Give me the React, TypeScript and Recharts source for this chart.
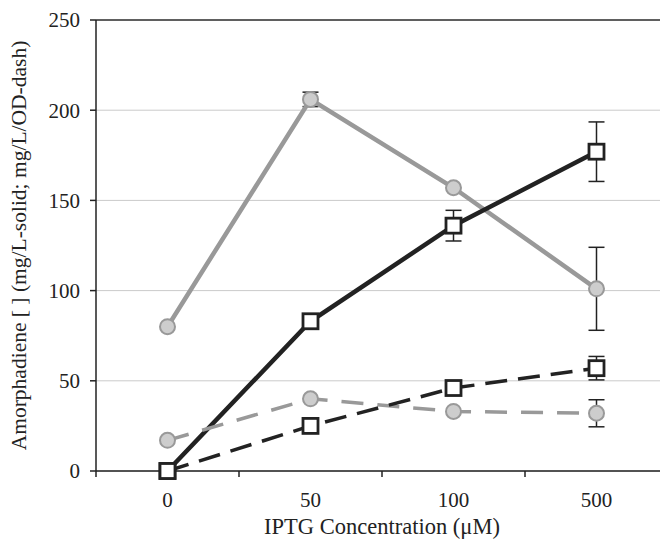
import {
  CartesianGrid,
  ComposedChart,
  ErrorBar,
  Label,
  Line,
  ReferenceLine,
  XAxis,
  YAxis,
} from "recharts";

const categories = ["0", "50", "100", "500"];
const graySolid = [80, 206, 157, 101];
const graySolidErr = [0, 4, 0, 23];
const blackSolid = [0, 83, 136, 177];
const blackSolidErr = [0, 0, 8.5, 16.5];
const grayDash = [17, 40, 33, 32];
const grayDashErr = [0, 0, 0, 7.5];
const blackDash = [0, 25, 46, 57];
const blackDashErr = [0, 0, 0, 6.5];
const yTicks = [0, 50, 100, 150, 200, 250];

const data = categories.map((c, i) => ({
  conc: c,
  gs: graySolid[i],
  gsErr: graySolidErr[i],
  bs: blackSolid[i],
  bsErr: blackSolidErr[i],
  gd: grayDash[i],
  gdErr: grayDashErr[i],
  bd: blackDash[i],
  bdErr: blackDashErr[i],
}));

const FONT = "'Liberation Serif', 'Times New Roman', serif";
const HALF_BAND = 71.5;
const INK = "#222";

function CircleDot(props: any) {
  const { cx, cy, index } = props;
  if (cx == null || cy == null) return null;
  return (
    <circle key={`c-${index}`} cx={cx} cy={cy} r={7.5} fill="#cdcdcd" stroke="#999" strokeWidth={2} />
  );
}

function SquareDot(props: any) {
  const { cx, cy, index } = props;
  if (cx == null || cy == null) return null;
  return (
    <rect key={`s-${index}`} x={cx - 7.5} y={cy - 7.5} width={15} height={15} fill="#fff" stroke={INK} strokeWidth={2.8} />
  );
}

// Excel-style ticks: marks sit between categories, labels centred
function CategoryTick(props: any) {
  const { x, y, payload } = props;
  return (
    <g>
      <line x1={x - HALF_BAND} x2={x - HALF_BAND} y1={y} y2={y + 6} stroke={INK} strokeWidth={1.5} />
      <text x={x} y={y + 36} textAnchor="middle" fill="#222" fontSize={21} fontFamily={FONT}>
        {payload.value}
      </text>
    </g>
  );
}

export default function App() {
  return (
    <ComposedChart
      width={660}
      height={531}
      data={data}
      margin={{ top: 12, right: 0, bottom: 0, left: 0 }}
      style={{ fontFamily: FONT }}
    >
      <CartesianGrid vertical={false} stroke="#cacaca" strokeWidth={1} />
      <ReferenceLine y={250} stroke="#333" strokeWidth={1.5} />
      <XAxis
        dataKey="conc"
        height={68}
        padding={{ left: HALF_BAND, right: HALF_BAND }}
        tickLine={false}
        tickSize={0}
        tickMargin={0}
        axisLine={{ stroke: INK, strokeWidth: 1.5 }}
        tick={<CategoryTick />}
        interval={0}
      >
        <Label
          value="IPTG Concentration (μM)"
          position="insideBottom"
          offset={5}
          style={{ fill: "#222", fontSize: 22.5, fontFamily: FONT }}
        />
      </XAxis>
      <YAxis
        width={88}
        domain={[0, 250]}
        ticks={yTicks}
        interval={0}
        tickSize={6}
        tickMargin={10}
        tick={{ fill: "#222", fontSize: 21, fontFamily: FONT }}
        axisLine={{ stroke: INK, strokeWidth: 1.5 }}
        tickLine={{ stroke: INK, strokeWidth: 1.5 }}
      >
        <Label
          value="Amorphadiene [ ] (mg/L-solid; mg/L/OD-dash)"
          angle={-90}
          position="insideLeft"
          offset={10}
          style={{ fill: "#222", fontSize: 21.5, fontFamily: FONT, textAnchor: "middle" }}
        />
      </YAxis>
      <Line
        dataKey="gs"
        stroke="#999"
        strokeWidth={4.5}
        dot={CircleDot}
        activeDot={false}
        isAnimationActive={false}
      >
        <ErrorBar dataKey="gsErr" width={8} stroke={INK} strokeWidth={1.5} direction="y" />
      </Line>
      <Line
        dataKey="bs"
        stroke={INK}
        strokeWidth={4.5}
        dot={SquareDot}
        activeDot={false}
        isAnimationActive={false}
      >
        <ErrorBar dataKey="bsErr" width={8} stroke={INK} strokeWidth={1.5} direction="y" />
      </Line>
      <Line
        dataKey="gd"
        stroke="#999"
        strokeWidth={3.5}
        strokeDasharray="22 14"
        dot={CircleDot}
        activeDot={false}
        isAnimationActive={false}
      >
        <ErrorBar dataKey="gdErr" width={8} stroke={INK} strokeWidth={1.5} direction="y" />
      </Line>
      <Line
        dataKey="bd"
        stroke={INK}
        strokeWidth={3.5}
        strokeDasharray="22 11"
        dot={SquareDot}
        activeDot={false}
        isAnimationActive={false}
      >
        <ErrorBar dataKey="bdErr" width={8} stroke={INK} strokeWidth={1.5} direction="y" />
      </Line>
    </ComposedChart>
  );
}
